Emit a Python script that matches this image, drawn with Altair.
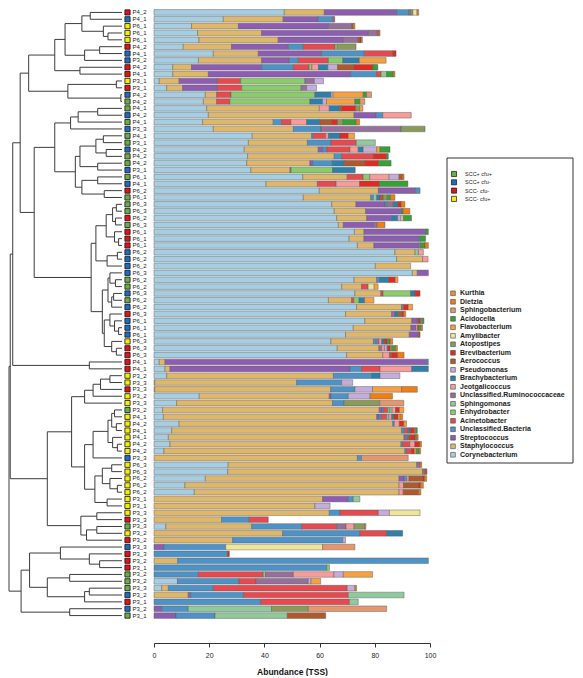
import altair as alt
import pandas as pd

FONT = "Liberation Sans, Arial, Helvetica, sans-serif"

# ---------------- data ----------------
TAXA = ["Corynebacterium", "Staphylococcus", "Streptococcus", "Unclassified.Bacteria",
        "Acinetobacter", "Enhydrobacter", "Sphingomonas", "Unclassified.Ruminococcaceae",
        "Jeotgalicoccus", "Brachybacterium", "Pseudomonas", "Aerococcus", "Brevibacterium",
        "Atopostipes", "Amylibacter", "Flavobacterium", "Acidocella", "Sphingobacterium",
        "Dietzia", "Kurthia"]
CODES = ["Co", "St", "Sp", "UB", "Ac", "En", "Sm", "Ru", "Je", "Br", "Ps", "Ae", "Bv",
         "At", "Am", "Fl", "Ad", "Sb", "Di", "Ku"]
TAXA_COLORS = ["#A6CEE3", "#DFB76B", "#8C5DB0", "#4D93C8", "#E64A4F", "#8ACC6A", "#90C99C",
               "#94709B", "#F79B9B", "#2E7FAA", "#C6ACDA", "#AF5A2C", "#E22A22", "#8A9A5B",
               "#EEE49A", "#F8A03F", "#3A9F35", "#E6966C", "#F27E10", "#E6913E"]

GROUP_NAMES = ["SCC+ cfu+", "SCC+ cfu-", "SCC- cfu-", "SCC- cfu+"]
GROUP_CODES = ["g", "b", "r", "y"]
GROUP_COLORS = ["#6AAE45", "#1C6EC2", "#E5121A", "#F6F000"]

LABELS_A = ["P4_2", "P4_1", "P6_1", "P6_1", "P6_1", "P4_2", "P4_1", "P3_2", "P4_2", "P4_1",
            "P3_1", "P3_1", "P4_2", "P4_2", "P4_1", "P4_2", "P4_1", "P3_3", "P4_1", "P3_1",
            "P4_2", "P4_2", "P4_2", "P3_1"]
LABELS_B = ["P6_1", "P4_1", "P6_2", "P6_1", "P6_3", "P6_3", "P6_2", "P6_3", "P6_1", "P6_1",
            "P6_1", "P6_2", "P6_2", "P6_2", "P6_3", "P6_2", "P6_2", "P6_3", "P6_2", "P6_2"]
LABELS_C = ["P6_3", "P6_1", "P6_1", "P6_1", "P6_3", "P6_3", "P6_3", "P4_1", "P4_1", "P3_2",
            "P3_3", "P3_3", "P3_2", "P3_3", "P3_2", "P4_1", "P4_2", "P4_1", "P4_1"]
LABELS_D = ["P4_2", "P4_2", "P3_3", "P6_3", "P6_3", "P6_2", "P6_2", "P6_2", "P3_1", "P3_1",
            "P3_3", "P3_3", "P3_3", "P3_2", "P3_2", "P3_3", "P3_3", "P3_2", "P3_1"]
LABELS_E = ["P3_2", "P3_2", "P3_3", "P3_2", "P3_1", "P3_2", "P3_1"]

GROUPS_A = "rbyyyrbbrryrbggbgbggbggb"
GROUPS_B = "gbrgggrgrrrbbbbggbgb"
GROUPS_C = "rbbbyrrrryyryygyyyy"
GROUPS_D = "yybyyyyyyyyrgyrbrrr"
GROUPS_E = "gggbrbg"

ABUND_A = [
    "Co:47.2 St:14.5 Sp:26.2 UB:4.5 Ru:0.6 At:0.8 Am:1.5 Di:0.6",
    "Co:25.1 St:21.7 Sp:12.7 UB:5.4 Ac:0.6",
    "Co:13.6 St:17.0 Sp:32.6 Ru:8.4 Ae:0.6 Di:0.6",
    "Co:15.8 St:23.2 Sp:38.7 Ru:3.2 Ae:0.5 Di:0.5",
    "Co:16.3 St:28.7 Sp:23.6 Ru:5.4 Ae:0.6 Bv:0.4 Di:0.5",
    "Co:10.6 St:17.5 Sp:20.6 UB:5.4 Ac:11.5 En:0.8 At:6.8",
    "Co:21.5 St:16.3 Sp:22.9 UB:15.5 Ac:10.3 Bv:1.2",
    "Co:16.1 St:22.9 Sp:10.0 UB:3.3 Ac:10.9 En:5.2 Br:6.0 Fl:9.7",
    "Co:6.8 St:6.8 Sp:25.4 UB:11.5 Ac:5.7 En:1.0 Je:2.4 Br:3.4 Ps:3.5 Ae:5.8 Bv:7.0 Ad:1.8",
    "Co:6.8 St:12.9 Sp:51.6 UB:9.4 Ac:1.6 Sm:2.0 Ad:2.4 Di:0.6",
    "Co:1.9 St:7.2 Sp:13.9 Ac:8.4 En:23.3 Ru:3.4 Ps:3.3",
    "Co:4.6 St:5.8 Sp:12.6 Ac:8.8 En:21.5 Ru:2.0 Ps:3.6",
    "Co:18.6 St:4.1 Ac:5.2 En:30.4 Br:5.8 Ps:0.8 Fl:10.9 Ad:1.2 Sb:1.8",
    "Co:17.9 St:4.8 Ac:4.8 En:29.0 Br:4.6 Ps:1.4 Fl:10.3 Ad:1.8 Sb:1.8",
    "Co:19.1 St:40.8 Je:3.6 Br:3.6 Ae:0.8 Bv:5.2 At:1.4 Fl:1.2",
    "Co:19.7 St:52.8 Sp:8.0 UB:2.4 Je:10.3",
    "Co:17.6 St:25.6 UB:3.0 Ac:3.4 Je:5.7 Br:4.8 Ae:4.2 Bv:2.2 At:2.0 Ad:4.8 Di:1.2",
    "Co:21.5 St:29.0 UB:10.0 Ru:29.0 At:8.7",
    "Co:35.6 St:21.5 UB:0.6 Ac:4.5 Je:1.0 Br:4.2 Bv:3.0 Fl:2.3",
    "Co:34.2 St:21.4 UB:8.5 Ac:9.2 Sm:6.9",
    "Co:32.7 St:26.8 Sp:1.6 UB:1.5 Ac:8.4 Je:3.0 Br:1.8 Ps:4.9 Fl:1.2 Ad:3.6",
    "Co:33.9 St:31.4 UB:2.7 Ac:11.5 Bv:4.8 Ad:0.6",
    "Co:33.6 St:22.9 Sp:1.0 UB:7.1 Br:4.4 Ae:7.5 Bv:4.8 Ad:4.6",
    "Co:35.1 St:14.2 UB:0.4 En:15.0 Br:8.2",
]
ABUND_B = [
    "Co:53.9 St:16.1 Ac:5.8 En:2.4 Je:7.0 Ps:3.6 Ae:1.2 Di:0.6",
    "Co:40.6 St:18.6 Ac:6.8 Je:8.5 Bv:7.2 Ad:10.3",
    "Co:59.9 St:21.4 Sp:13.5 UB:1.6",
    "Co:54.1 St:24.4 UB:1.0 Sm:1.2 Br:1.2 Ae:1.2 At:1.4 Ad:1.2 Di:1.6",
    "Co:64.4 St:8.8 Sp:10.5 UB:0.8 Ru:2.2 Br:1.6 Bv:1.2 Di:1.4",
    "Co:65.3 St:11.4 Sp:13.0 Ad:0.6 Di:2.4",
    "Co:66.2 St:10.9 Sp:9.0 Br:2.2 Ps:1.2 Am:0.8 Ad:3.0",
    "Co:66.8 St:1.8 Sp:10.9 Ru:1.4 Di:2.8",
    "Co:72.6 St:3.5 Sp:22.3 Ad:1.0",
    "Co:70.7 St:5.4 Sp:19.7 UB:0.6 Ad:2.0",
    "Co:73.7 St:6.0 Sp:16.1 Ru:0.8 Ad:1.6 Di:1.2",
    "Co:87.3 St:7.3 Sm:1.2 Je:1.8",
    "Co:87.9 St:9.4 Je:2.0",
    "Co:80.2 St:12.8",
    "Co:93.6 St:1.8 Sp:4.0",
    "Co:72.5 St:8.2 UB:1.0 Br:3.3 Bv:2.4 Fl:1.0",
    "Co:68.0 St:7.2 Ac:2.4 Am:2.2 Fl:1.4",
    "Co:72.8 St:9.4 Ac:0.8 En:10.0 Br:1.6 Bv:1.8",
    "Co:63.2 St:8.4 Ac:0.8 En:1.9 Br:2.0 Fl:3.4",
    "Co:73.4 St:16.3 Ru:0.8 Bv:1.6 Fl:1.6",
]
ABUND_C = [
    "Co:69.4 St:16.7 Ru:1.2 Br:1.2 Ae:1.2 Bv:0.8 Di:0.7",
    "Co:76.4 St:17.0 Sp:2.0 Ae:0.6 Bv:0.6 At:0.6 Ad:0.6",
    "Co:72.2 St:20.9 Sp:1.8 Je:0.6 Ae:0.6 Ad:0.6 Di:0.6",
    "Co:69.4 St:23.1 Sp:3.3 Ae:0.6",
    "Co:64.1 St:15.4 UB:1.0 Ru:1.0 Je:1.0 Br:1.0 Bv:1.0 Ad:1.0 Di:1.0",
    "Co:66.4 St:15.1 Ru:1.0 Je:1.0 Ps:1.0 Bv:1.0 At:0.8 Ad:1.2 Di:0.7",
    "Co:69.8 St:13.1 Je:2.4 Ae:0.8 Bv:2.2 Di:2.3",
    "Co:1.9 St:2.1 Sp:94.8 UB:0.6",
    "Co:4.0 St:1.8 Sp:65.2 UB:4.2 Ac:6.7 Je:11.5 Br:6.0",
    "Co:4.6 St:60.4 UB:13.9 Br:3.0 Ps:7.2",
    "Co:0.3 St:51.4 UB:16.3 Ps:4.0",
    "Co:0.3 St:63.7 UB:8.8 Ps:6.4 Fl:10.5 Di:5.7",
    "Co:16.4 St:47.1 Sp:0.6 UB:6.3 Ps:7.9 Di:8.1",
    "Co:8.2 St:56.5 UB:4.2 At:12.9 Sb:8.7",
    "Co:3.1 St:78.5 Sp:1.0 UB:0.6 Ac:1.5 En:0.8 Sm:0.8 Je:1.2 Bv:1.4 Fl:1.6",
    "Co:3.4 St:77.3 Sp:0.8 UB:0.8 Ac:2.0 Sm:0.8 Je:1.0 Br:0.8 Bv:1.5 Fl:0.8 Di:0.9",
    "Co:9.1 St:77.4 UB:0.6 Je:1.8 Bv:1.6 Fl:1.0",
    "Co:6.4 St:83.3 UB:1.0 Ac:1.4 Br:0.8 Bv:1.5 Fl:0.4 Ad:0.6",
    "Co:5.2 St:85.4 Sp:0.6 UB:0.6 Ae:1.0 Bv:1.8 Ad:0.6 Di:0.5",
]
ABUND_D = [
    "Co:5.8 St:83.7 UB:0.6 Ac:2.6 Je:1.8 Bv:1.8 Di:0.6",
    "Co:3.6 St:87.3 UB:0.6 Ac:1.8 Bv:1.0 Fl:0.7 Ad:1.0 Di:0.6",
    "St:73.7 UB:1.5 Sb:16.9",
    "Co:26.9 St:68.3 Ru:1.2 Di:0.6",
    "Co:26.7 St:70.6 Ru:0.8 Ae:0.8",
    "Co:18.6 St:70.2 Sp:1.8 UB:1.0 Je:0.8 Ae:5.0 Bv:0.6 Di:0.8",
    "Co:11.2 St:77.6 Je:1.6 Ae:5.6 Bv:0.6 Di:1.0",
    "Co:14.6 St:74.2 Je:1.5 Ae:5.6 Di:0.8",
    "St:61.1 Sp:9.3 UB:1.8 Sm:2.4",
    "St:58.3 Ps:5.5",
    "St:63.5 UB:3.9 Ac:13.9 Ps:4.0 Am:11.1",
    "St:24.5 UB:10.0 Ac:6.9",
    "Co:4.3 St:31.1 UB:18.1 Ac:12.7 Ru:3.4 Je:2.9 At:3.9 Fl:0.4",
    "St:46.6 UB:28.0 Ac:9.7 Br:5.8",
    "St:28.5 UB:39.9 Ps:1.0",
    "Sp:3.6 UB:22.4 Am:35.1 Sb:11.7",
    "UB:26.6 Bv:0.7",
    "St:8.6 UB:90.8",
    "UB:62.6 En:1.0",
]
ABUND_E = [
    "UB:16.1 Ac:23.5 En:0.8 Ru:10.1 Je:14.7 Ps:3.4 Fl:10.6",
    "Co:8.5 UB:22.3 Ac:6.2 Ru:18.9 Ps:1.0 Fl:3.5",
    "Co:2.8 St:2.4 UB:16.3 Ac:48.5 Ps:2.8 Di:0.6",
    "St:12.4 Sp:0.9 UB:19.1 Ac:38.0 Sm:20.2",
    "UB:38.6 Ac:32.2 Sm:3.2",
    "Sp:2.8 UB:9.6 Sm:30.2 At:13.3 Sb:28.4",
    "Sp:8.0 UB:14.1 Sm:26.2 Ae:13.9",
]

# dendrogram: [merge height, left, right]; integers are rows (1 = top)
CTOP = [0.826,
        [0.595,
         [0.504, [0.355, [0.281, 1, 2], [0.165, 3, [0.124, 4, 5]]], [0.331, [0.198, 6, 7], 8]],
         [0.372, 9, 10]],
        [0.479, [0.05, 11, 12], [0.01, 13, 14]]]
M1 = [0.595,
      [0.455, [0.388, [0.215, 15, 16], 17], 18],
      [0.413,
       [0.372, [0.231, [0.165, 19, 20], [0.140, 21, 22]], [0.215, 23, 24]],
       [0.355, [0.215, 25, 26], [0.157, 27, 28]]]]
M2 = [0.273,
      [0.231,
       [0.140, [0.083, [0.05, 29, 30], [0.058, 31, 32]], [0.066, 33, [0.03, 34, 35]]],
       [0.132, [0.041, 36, 37], 38]],
      [0.174,
       [0.124, [0.107, 39, [0.058, 40, 41]], [0.091, [0.074, 42, 43], 44]],
       [0.157, [0.107, 45, [0.066, 46, [0.03, 47, 48]]], [0.091, 49, [0.05, 50, 51]]]]]
N1 = [0.967, [0.901, CTOP, [0.777, M1, M2]], [0.289, 52, 53]]
N2 = [0.661,
      [0.446,
       [0.331, [0.256, [0.190, [0.107, 54, 55], 56], 57], 58],
       [0.331,
        [0.256, [0.124, [0.091, [0.066, 59, 60], [0.05, 61, 62]], [0.083, 63, [0.041, 64, 65]]], 66],
        [0.240, [0.174, [0.091, 67, 68], [0.107, 69, [0.041, 70, 71]]], [0.132, 72, 73]]]],
      [0.364, [0.223, 74, 75], [0.314, [0.223, 76, 77], 78]]]
B4 = [0.893,
      [0.818,
       [0.545, 79, [0.289, 80, [0.198, 81, 82]]],
       [0.661, [0.463, 83, 84], [0.331, [0.289, 85, 86], 87]]],
      [0.463, 88, 89]]
TREE = [1.0, [0.989, N1, N2], B4]

# ---------------- tables ----------------
labels = LABELS_A + LABELS_B + LABELS_C + LABELS_D + LABELS_E
groups = GROUPS_A + GROUPS_B + GROUPS_C + GROUPS_D + GROUPS_E
abund = ABUND_A + ABUND_B + ABUND_C + ABUND_D + ABUND_E
N = len(labels)

samp_df = pd.DataFrame({
    "row": list(range(1, N + 1)),
    "label": labels,
    "group": [GROUP_NAMES[GROUP_CODES.index(g)] for g in groups],
})

bar_rows = []
for i, s in enumerate(abund):
    vals = dict((p.split(":")[0], float(p.split(":")[1])) for p in s.split())
    cum = 0.0
    for code, taxon in zip(CODES, TAXA):
        v = vals.get(code, 0.0)
        if v > 0:
            bar_rows.append({"row": i + 1, "taxon": taxon, "start": cum, "end": cum + v,
                             "y1": i + 1 - 0.41, "y2": i + 1 + 0.41, "value": v})
            cum += v
bar_df = pd.DataFrame(bar_rows)

segs = []


def walk(node):
    if isinstance(node, int):
        return 0.0, float(node)
    h, a, b = node
    ha, ya = walk(a)
    hb, yb = walk(b)
    segs.append({"h1": h, "h2": h, "y1": ya, "y2": yb})
    segs.append({"h1": h, "h2": ha, "y1": ya, "y2": ya})
    segs.append({"h1": h, "h2": hb, "y1": yb, "y2": yb})
    return h, (ya + yb) / 2


walk(TREE)
seg_df = pd.DataFrame(segs)

# ---------------- layout ----------------
H = 610
W_LEFT, W_BARS, W_LEG = 146, 276, 145
yscale = alt.Scale(domain=[0.5, N + 0.5], reverse=True, nice=False, zero=False)

dendro = alt.Chart(seg_df).mark_rule(color="#3c3c3c", strokeWidth=1).encode(
    x=alt.X("h1:Q", scale=alt.Scale(domain=[0, 1], range=[114, 1], nice=False, zero=False), axis=None),
    x2="h2:Q",
    y=alt.Y("y1:Q", scale=yscale, axis=None),
    y2="y2:Q",
)
squares = alt.Chart(samp_df).mark_square(size=27, opacity=1, stroke="#111", strokeWidth=0.8).encode(
    x=alt.value(119.5),
    y=alt.Y("row:Q", scale=yscale, axis=None),
    fill=alt.Fill("group:N", scale=alt.Scale(domain=GROUP_NAMES, range=GROUP_COLORS), legend=None),
)
texts = alt.Chart(samp_df).mark_text(align="left", baseline="middle", fontSize=6, font=FONT,
                                     color="#222").encode(
    x=alt.value(124.5),
    y=alt.Y("row:Q", scale=yscale, axis=None),
    text="label:N",
)
left = alt.layer(dendro, squares, texts).properties(width=W_LEFT, height=H)

bars = alt.Chart(bar_df).mark_rect(stroke="#5a5a5a", strokeWidth=0.45).encode(
    x=alt.X("start:Q", scale=alt.Scale(domain=[0, 100], nice=False),
            axis=alt.Axis(values=[0, 20, 40, 60, 80, 100], title="Abundance (TSS)", offset=24,
                          grid=False, tickSize=4, labelFontSize=7, titleFontSize=8.5,
                          titleFontWeight="bold", domainColor="#333", tickColor="#333",
                          labelColor="#222222", titleColor="#111111", labelFont=FONT,
                          titleFont=FONT, titlePadding=9, labelPadding=4, labelFlush=False)),
    x2="end:Q",
    y=alt.Y("y1:Q", scale=yscale, axis=None),
    y2="y2:Q",
    color=alt.Color("taxon:N", scale=alt.Scale(domain=TAXA, range=TAXA_COLORS), legend=None),
).properties(width=W_BARS, height=H)

# legend panel (panel-pixel scale)
pix = alt.Scale(domain=[0, H], reverse=True, nice=False, zero=False)
g_leg = pd.DataFrame({"name": GROUP_NAMES, "color": GROUP_COLORS,
                      "slot": [165 + 8.3 * i for i in range(len(GROUP_NAMES))]})
leg_order = TAXA[::-1]
t_leg = pd.DataFrame({"name": leg_order, "color": TAXA_COLORS[::-1],
                      "slot": [284.3 + 8.5 * i for i in range(len(leg_order))]})

box = alt.Chart(alt.Data(values=[{"a": 1}])).mark_rect(fillOpacity=0, stroke="#333",
                                                       strokeWidth=1).encode(
    x=alt.value(17), x2=alt.value(143), y=alt.value(149), y2=alt.value(454))
g_sq = alt.Chart(g_leg).mark_square(size=26, opacity=1, stroke="#111", strokeWidth=0.7).encode(
    x=alt.value(24), y=alt.Y("slot:Q", scale=pix, axis=None),
    fill=alt.Fill("color:N", scale=None))
g_tx = alt.Chart(g_leg).mark_text(align="left", baseline="middle", fontSize=5.5, font=FONT,
                                  color="#222").encode(
    x=alt.value(35), y=alt.Y("slot:Q", scale=pix, axis=None), text="name:N")
t_sq = alt.Chart(t_leg).mark_square(size=22, opacity=1, stroke="#444", strokeWidth=0.6).encode(
    x=alt.value(23), y=alt.Y("slot:Q", scale=pix, axis=None),
    fill=alt.Fill("color:N", scale=None))
t_tx = alt.Chart(t_leg).mark_text(align="left", baseline="middle", fontSize=7, fontWeight="bold",
                                  font=FONT, color="#222").encode(
    x=alt.value(30), y=alt.Y("slot:Q", scale=pix, axis=None), text="name:N")
legend = alt.layer(box, g_sq, g_tx, t_sq, t_tx).properties(width=W_LEG, height=H)

chart = alt.hconcat(left, bars, legend, spacing=0, bounds="flush", padding=0,
                    background="white").configure_view(stroke=None, strokeWidth=0)

chart.save("out.html", embed_options={"renderer": "svg", "actions": False})
